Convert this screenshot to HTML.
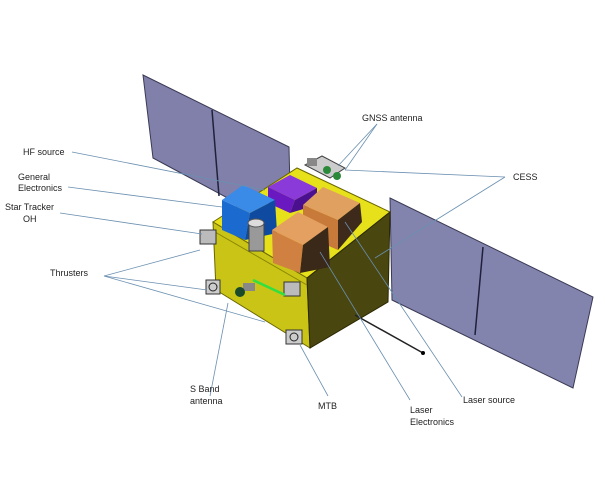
<!DOCTYPE html>
<html><head><style>
body{margin:0;background:#fff;}
svg{display:block;}
text{font-family:"Liberation Sans",sans-serif;font-size:9px;fill:#222;}
</style></head><body>
<svg width="600" height="500" viewBox="0 0 600 500">
<rect width="600" height="500" fill="#fff"/>
<polygon points="143,75 289,147 291,232 153,158" fill="#8080aa" stroke="#3a3a55" stroke-width="1"/>
<line x1="212" y1="110" x2="219" y2="196" stroke="#20203a" stroke-width="1.5"/>
<polygon points="390,198 593,297 573,388 392,300" fill="#8384ae" stroke="#3a3a55" stroke-width="1"/>
<line x1="483" y1="247" x2="475" y2="335" stroke="#20203a" stroke-width="1.5"/>
<polygon points="213,222 297,168 390,212 307,278" fill="#e6e11a" stroke="#6a6600" stroke-width="1"/>
<polygon points="213,222 307,278 310,348 216,290" fill="#c9c416" stroke="#6a6600" stroke-width="1"/>
<polygon points="307,278 390,212 388,302 310,348" fill="#4a4610" stroke="#2a2800" stroke-width="1"/>
<line x1="215" y1="232" x2="307" y2="285" stroke="#8a8500" stroke-width="1"/>
<polygon points="268,187 290,175 317,188 295,200" fill="#8a3ad8"/>
<polygon points="268,187 295,200 290,213 268,203" fill="#6a18c0"/>
<polygon points="295,200 317,188 317,205 290,213" fill="#4a1090"/>
<polygon points="303,205 323,187 360,203 338,220" fill="#e0a060"/>
<polygon points="303,205 338,220 338,250 303,235" fill="#c87a3a"/>
<polygon points="338,220 360,203 362,222 338,250" fill="#3e2a1a"/>
<polygon points="222,200 243,185 275,200 250,213" fill="#3a8ae8"/>
<polygon points="222,200 250,213 245,240 222,230" fill="#1a6ad0"/>
<polygon points="250,213 275,200 277,233 245,240" fill="#0e4aa0"/>
<polygon points="272,230 298,212 328,227 303,245" fill="#e3a060"/>
<polygon points="272,230 303,245 300,273 273,263" fill="#d08040"/>
<polygon points="303,245 328,227 330,267 300,273" fill="#3a2818"/>
<rect x="249" y="223" width="15" height="28" fill="#999" stroke="#444"/>
<ellipse cx="256" cy="223" rx="8" ry="4" fill="#ddd" stroke="#555"/>
<polygon points="305,165 322,156 345,168 330,178" fill="#ccc" stroke="#444"/>
<circle cx="327" cy="170" r="4" fill="#2a8a3a"/><circle cx="337" cy="176" r="4" fill="#2a8a3a"/>
<rect x="307" y="158" width="10" height="8" fill="#888"/>
<rect x="200" y="230" width="16" height="14" fill="#bbb" stroke="#333"/>
<rect x="206" y="280" width="14" height="14" fill="#ccc" stroke="#333"/><circle cx="213" cy="287" r="4" fill="none" stroke="#222"/>
<rect x="284" y="282" width="16" height="14" fill="#bbb" stroke="#333"/>
<rect x="286" y="330" width="16" height="14" fill="#ccc" stroke="#333"/><circle cx="294" cy="337" r="4" fill="none" stroke="#222"/>
<line x1="253" y1="280" x2="285" y2="295" stroke="#30e040" stroke-width="2.5"/>
<rect x="243" y="283" width="12" height="8" fill="#888"/>
<circle cx="240" cy="292" r="5" fill="#1a4a2a"/>
<line x1="355" y1="315" x2="423" y2="353" stroke="#222" stroke-width="1.5"/>
<circle cx="423" cy="353" r="2" fill="#000"/>
<g stroke="#6a8fb0" stroke-width="0.8" fill="none">
<line x1="72" y1="152" x2="265" y2="190"/>
<line x1="68" y1="187" x2="222" y2="207"/>
<line x1="60" y1="213" x2="202" y2="234"/>
<line x1="104" y1="276" x2="200" y2="250"/>
<line x1="104" y1="276" x2="207" y2="290"/>
<line x1="104" y1="276" x2="265" y2="322"/>
<line x1="210" y1="396" x2="228" y2="303"/>
<line x1="328" y1="396" x2="300" y2="345"/>
<line x1="410" y1="400" x2="320" y2="252"/>
<line x1="462" y1="397" x2="345" y2="222"/>
<line x1="377" y1="124" x2="338" y2="166"/>
<line x1="377" y1="124" x2="345" y2="170"/>
<line x1="505" y1="177" x2="345" y2="170"/>
<line x1="505" y1="177" x2="375" y2="258"/>
</g>
<text x="362" y="121">GNSS antenna</text>
<text x="513" y="180">CESS</text>
<text x="23" y="155">HF source</text>
<text x="18" y="180">General</text>
<text x="18" y="191">Electronics</text>
<text x="5" y="210">Star Tracker</text>
<text x="23" y="222">OH</text>
<text x="50" y="276">Thrusters</text>
<text x="190" y="392">S Band</text>
<text x="190" y="404">antenna</text>
<text x="318" y="409">MTB</text>
<text x="410" y="413">Laser</text>
<text x="410" y="425">Electronics</text>
<text x="463" y="403">Laser source</text>
</svg>
</body></html>
